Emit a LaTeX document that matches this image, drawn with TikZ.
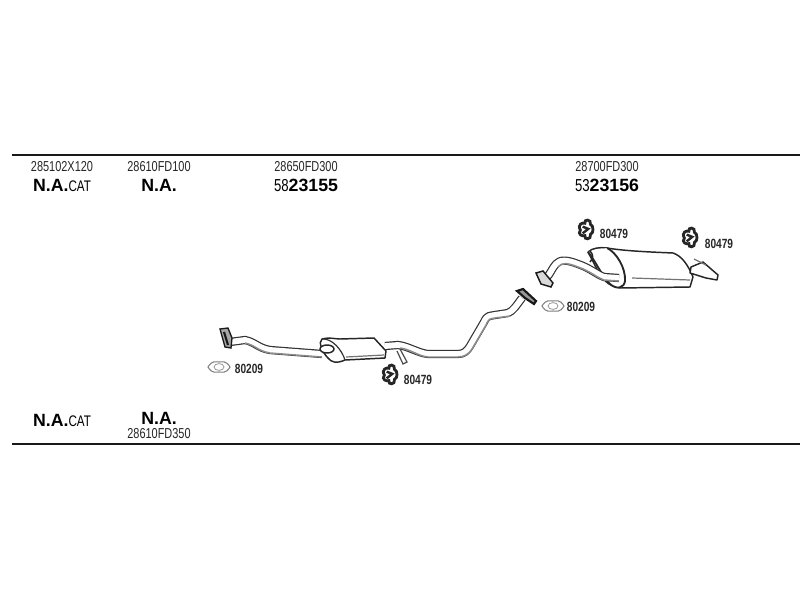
\documentclass[tikz,border=0pt]{standalone}
\usepackage{fontspec}
\setmainfont{Liberation Sans}
\newfontfamily\narrowfont[FakeStretch=0.76]{Liberation Sans}
\usetikzlibrary{positioning,calc}
\tikzset{
    partno/.style={inner sep=0pt, font=\narrowfont\fontsize{10.8}{12}\selectfont, text=black!85},
    refno/.style={inner sep=0pt, font=\narrowfont\bfseries\fontsize{10}{12}\selectfont, text=black!85},
    bignum/.style={inner sep=0pt, font=\fontsize{13.3}{15}\selectfont\bfseries, text=black},
    rule/.style={line width=1.1pt, black!90},
    pipe/.style={draw=black!80, line width=0.9pt, double=white, double distance=4.4pt, line join=round},
    under/.style={draw=black!45, line width=1.1pt, line join=round},
    shell/.style={draw=black!85, line width=1.1pt, fill=white, line join=round},
    detail/.style={draw=black!55, line width=0.9pt},
    hanger/.pic={
        \draw[black!85, line width=2.1pt, scale=1.12] (-5,0) .. controls (-8,-5) and (-3,-7) .. (-1,-6) .. controls (-2,-10) and (5,-10) .. (4,-5) .. controls (7,-4) and (7,3) .. (4,4) .. controls (5,9) and (-2,9) .. (-1,5) .. controls (-3,6) and (-8,4) .. (-5,0) -- cycle;
        \draw[black!85, line width=1.8pt, scale=1.12] (-3,-3) -- (2,-1) -- (-3,3);
    },
    gasket/.pic={
        \draw[black!50, line width=0.8pt] (-11,0) .. controls (-7,-7) and (-3,-5) .. (0,-5) .. controls (3,-5) and (7,-7) .. (11,0) .. controls (7,7) and (3,5) .. (0,5) .. controls (-3,5) and (-7,7) .. (-11,0) -- cycle;
        \draw[black!40, line width=0.6pt] (0,0) circle[x radius=5, y radius=3.4];
    }
}
\begin{document}
\begin{tikzpicture}[x=0.75pt, y=-0.75pt]
    \useasboundingbox (0,0) rectangle (800,600);
    % rules
    \coordinate (topl) at (12,155);
    \coordinate (topr) at (800,155);
    \coordinate (botl) at (12,444);
    \coordinate (botr) at (800,444);
    \draw[rule] (topl) -- (topr);
    \draw[rule] (botl) -- (botr);
    % part numbers
    \node[partno] (pa) at (62,167) {285102X120};
    \node[partno] (pb) at (159,167) {28610FD100};
    \node[partno] (pc) at (306,167) {28650FD300};
    \node[partno] (pd) at (607,167) {28700FD300};
    \node[bignum] (na) at (62,185) {N.A.{\narrowfont\mdseries\fontsize{11.5}{13}\selectfont CAT}};
    \node[bignum] (nb) at (159,185) {N.A.};
    \node[bignum] (nc) at (306,185) {{\narrowfont\mdseries\fontsize{13}{15}\selectfont 58}23155};
    \node[bignum] (nd) at (607,185) {{\narrowfont\mdseries\fontsize{13}{15}\selectfont 53}23156};
    \node[bignum] (ne) at (62,420) {N.A.{\narrowfont\mdseries\fontsize{11.5}{13}\selectfont CAT}};
    \node[bignum] (nf) at (159,418) {N.A.};
    \node[partno] (pe) at (159,434) {28610FD350};
    % front pipe
    \draw[pipe] (230,342) -- (245,340) .. controls (255,342) and (258,348) .. (270,350) -- (322,354);
    \draw[under] (245,343) .. controls (255,345) and (258,351) .. (270,353) -- (322,357);
    \draw[black!90, line width=1pt, fill=black!35] (220,329) -- (228,328) -- (232,338) -- (231,348) -- (225,347) -- cycle;
    \draw[black!90, line width=1.6pt] (224,332) -- (228,345);
    % front silencer
    \draw[shell] (322,339) .. controls (330,337) and (335,339) .. (340,339) -- (374,338) -- (386,351) -- (385,358) -- (345,360) .. controls (336,364) and (331,362) .. (328,358) .. controls (322,352) and (318,342) .. (322,339) -- cycle;
    \draw[black!80, line width=0.9pt] (322,339) .. controls (332,338) and (342,350) .. (345,360);
    \draw[shell] (327,349) circle[x radius=7, y radius=4];
    \draw[detail] (346,357) -- (384,355);
    % middle pipe
    \draw[pipe] (385,346) -- (398,345) .. controls (408,346) and (418,353) .. (428,354) -- (458,354) .. controls (464,354) and (467,351) .. (470,346) -- (484,322) .. controls (487,315) and (490,316) .. (495,315) -- (508,313) .. controls (513,311) and (516,306) .. (522,298);
    \draw[under] (400,348) .. controls (410,349) and (418,356) .. (428,357) -- (458,357) .. controls (464,357) and (469,354) .. (472,349) -- (486,325) .. controls (489,318) and (490,319) .. (495,318) -- (510,316);
    \draw[black!70, line width=0.9pt] (397,351) -- (403,364) -- (407,362) -- (400,349);
    \draw[black!90, line width=1.6pt, fill=black!40] (517,291) -- (523,289) -- (536,301) -- (534,304) -- (525,298) -- cycle;
    % rear pipe and silencer
    \draw[shell] (607,248) .. controls (625,251) and (650,252) .. (673,253) .. controls (682,256) and (688,265) .. (693,277) -- (690,287) -- (620,288) .. controls (610,286) and (605,282) .. (600,275) -- (588,252) .. controls (592,248) and (600,247) .. (607,248) -- cycle;
    \draw[shell, line width=1.4pt] (607,248) .. controls (616,252) and (626,268) .. (625,281) .. controls (624,288) and (617,290) .. (610,284) .. controls (603,278) and (595,260) .. (588,252);
    \draw[detail] (632,278) -- (690,280);
    \draw[pipe] (546,278) .. controls (550,275) and (552,268) .. (556,264) .. controls (560,259) and (568,260) .. (578,264) .. controls (590,268) and (596,274) .. (604,277) -- (619,278);
    \draw[under] (558,267) .. controls (562,262) and (568,263) .. (578,267) .. controls (590,271) and (596,277) .. (604,280) -- (619,281);
    \draw[black!85, line width=1.1pt] (590,251) .. controls (593,254) and (594,258) .. (590,262);
    \draw[black!90, line width=1.1pt, fill=black!15] (536,273) -- (543,271) -- (553,283) -- (551,287) -- (541,284) -- cycle;
    % tail pipe
    \draw[shell] (691,267) -- (703,262) -- (718,275) -- (717,280) -- (706,278) -- (690,273) -- cycle;
    \draw[detail] (694,259) -- (706,265);
    % gaskets and hangers
    \pic (gas1) at (219,367) {gasket};
    \pic (gas2) at (553,306) {gasket};
    \pic (han1) at (390,375) {hanger};
    \pic (han2) at (586,230) {hanger};
    \pic (han3) at (690,238) {hanger};
    \node[refno] (ra) at (249,369) {80209};
    \node[refno] (rb) at (581,307) {80209};
    \node[refno] (rc) at (418,380) {80479};
    \node[refno] (rd) at (614,234) {80479};
    \node[refno] (re) at (719,244) {80479};
\end{tikzpicture}
\end{document}
